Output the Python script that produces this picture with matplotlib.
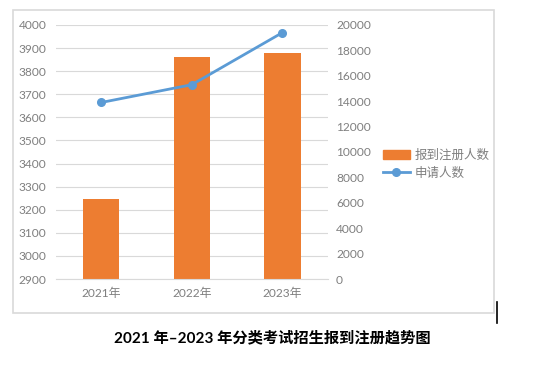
"""Recreate the 2021-2023 enrolment trend chart (bars + line, twin axes)."""
import matplotlib
matplotlib.use("Agg")
from matplotlib import pyplot as plt
from matplotlib.patches import Rectangle
from matplotlib.lines import Line2D

# data
years = ["2021年", "2022年", "2023年"]
registered = [3245, 3860, 3880]        # 报到注册人数 (left axis)
applicants = [13900, 15300, 19400]     # 申请人数 (right axis)
left_ticks = list(range(2900, 4001, 100))
right_ticks = list(range(0, 20001, 2000))

BAR = "#ed7d31"
LINE = "#5b9bd5"
GREY = "#7f7f7f"
GRID = "#d9d9d9"
FONTS = ["Lato", "Noto Sans CJK SC"]

plt.rcParams["font.family"] = FONTS

fig = plt.figure(figsize=(5.5, 3.72), dpi=100)
ax = fig.add_axes([0.1018, 0.25, 0.494, 0.6828])
ax2 = ax.twinx()

x = range(len(years))
ax.bar(x, registered, width=0.4, color=BAR, zorder=2, label="报到注册人数")
ax.set_ylim(2900, 4000)
ax.set_yticks(left_ticks)
ax.set_xlim(-0.5, 2.5)
ax.set_xticks(list(x))
ax.set_xticklabels(years)
ax.grid(axis="y", color=GRID, lw=0.8, zorder=0)
ax.set_axisbelow(True)

ax2.plot(x, applicants, color=LINE, lw=2, marker="o", ms=5.5, zorder=3,
         label="申请人数")
ax2.set_ylim(0, 20000)
ax2.set_yticks(right_ticks)

for a in (ax, ax2):
    for s in a.spines.values():
        s.set_visible(False)
    a.tick_params(length=0, colors=GREY, labelsize=8.6)
ax.spines["bottom"].set_visible(True)
ax.spines["bottom"].set_color(GRID)
ax.tick_params(axis="x", pad=6)
ax.tick_params(axis="y", pad=7)
ax2.tick_params(axis="y", pad=6)

# legend to the right of the plot
handles = [Rectangle((0, 0), 1, 1, color=BAR),
           Line2D([], [], color=LINE, lw=2, marker="o", ms=5.5)]
fig.legend(handles, ["报到注册人数", "申请人数"], loc="upper left",
           bbox_to_anchor=(0.675, 0.63), frameon=False, fontsize=9,
           labelcolor=GREY, handlelength=2.2, handletextpad=0.35,
           labelspacing=0.45)

# chart frame and the stray text cursor
fig.patches.append(Rectangle((0.0236, 0.1586), 0.8745, 0.8145, fill=False,
                             edgecolor=GRID, lw=1.2, transform=fig.transFigure))
fig.lines.append(Line2D([0.9036, 0.9036], [0.1317, 0.188], color="black",
                        lw=1.2, transform=fig.transFigure))

fig.text(0.4945, 0.0914, "2021 年–2023 年分类考试招生报到注册趋势图",
         ha="center", va="center", fontsize=11, fontweight="bold",
         family=FONTS)

fig.savefig("out.png", dpi=100)
plt.close(fig)
